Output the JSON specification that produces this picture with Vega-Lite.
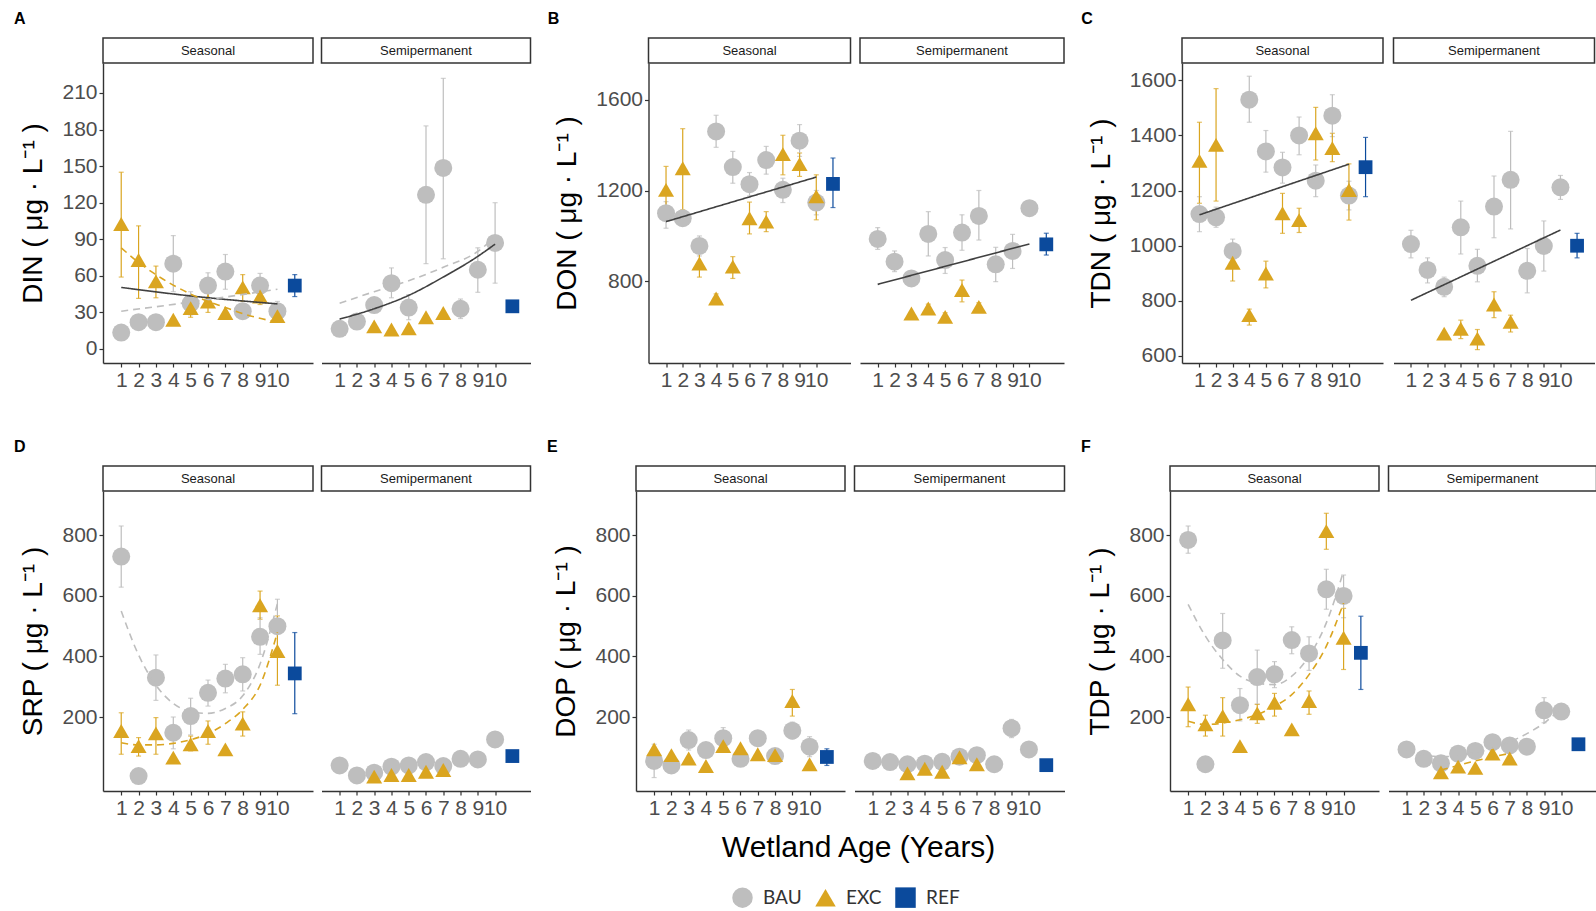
{
  "$schema": "https://vega.github.io/schema/vega-lite/v6.json",
  "background": "#FFFFFF",
  "padding": {"left": 13, "top": 11, "right": 0, "bottom": 0},
  "datasets": {
    "pts": [
      {"p":"A","hab":"Seasonal","grp":"BAU","age":1,"m":13.5},
      {"p":"A","hab":"Seasonal","grp":"BAU","age":2,"m":22},
      {"p":"A","hab":"Seasonal","grp":"BAU","age":3,"m":22},
      {"p":"A","hab":"Seasonal","grp":"BAU","age":4,"m":70,"lo":47,"hi":93},
      {"p":"A","hab":"Seasonal","grp":"BAU","age":5,"m":37.5,"lo":28,"hi":47},
      {"p":"A","hab":"Seasonal","grp":"BAU","age":6,"m":52,"lo":41,"hi":62.5},
      {"p":"A","hab":"Seasonal","grp":"BAU","age":7,"m":63.5,"lo":49,"hi":77.5},
      {"p":"A","hab":"Seasonal","grp":"BAU","age":8,"m":31},
      {"p":"A","hab":"Seasonal","grp":"BAU","age":9,"m":52,"lo":42,"hi":62},
      {"p":"A","hab":"Seasonal","grp":"BAU","age":10,"m":31,"lo":23,"hi":39},
      {"p":"A","hab":"Seasonal","grp":"EXC","age":1,"m":102.5,"lo":59,"hi":145},
      {"p":"A","hab":"Seasonal","grp":"EXC","age":2,"m":73,"lo":41.5,"hi":101},
      {"p":"A","hab":"Seasonal","grp":"EXC","age":3,"m":55.5,"lo":42,"hi":68},
      {"p":"A","hab":"Seasonal","grp":"EXC","age":4,"m":24},
      {"p":"A","hab":"Seasonal","grp":"EXC","age":5,"m":33.5,"lo":26,"hi":42},
      {"p":"A","hab":"Seasonal","grp":"EXC","age":6,"m":39,"lo":30,"hi":50},
      {"p":"A","hab":"Seasonal","grp":"EXC","age":7,"m":29.5},
      {"p":"A","hab":"Seasonal","grp":"EXC","age":8,"m":50.5,"lo":39,"hi":61},
      {"p":"A","hab":"Seasonal","grp":"EXC","age":9,"m":43,"lo":36.5,"hi":49.5},
      {"p":"A","hab":"Seasonal","grp":"EXC","age":10,"m":27,"lo":24,"hi":33.5},
      {"p":"A","hab":"Seasonal","grp":"REF","age":11,"m":52,"lo":43,"hi":61},

      {"p":"A","hab":"Semipermanent","grp":"BAU","age":1,"m":16.5},
      {"p":"A","hab":"Semipermanent","grp":"BAU","age":2,"m":22.5},
      {"p":"A","hab":"Semipermanent","grp":"BAU","age":3,"m":36},
      {"p":"A","hab":"Semipermanent","grp":"BAU","age":4,"m":54,"lo":42,"hi":66.5},
      {"p":"A","hab":"Semipermanent","grp":"BAU","age":5,"m":34,"lo":24,"hi":44.5},
      {"p":"A","hab":"Semipermanent","grp":"BAU","age":6,"m":126.5,"lo":70,"hi":183},
      {"p":"A","hab":"Semipermanent","grp":"BAU","age":7,"m":148.5,"lo":74,"hi":222},
      {"p":"A","hab":"Semipermanent","grp":"BAU","age":8,"m":33,"lo":25,"hi":41},
      {"p":"A","hab":"Semipermanent","grp":"BAU","age":9,"m":65,"lo":46.5,"hi":83},
      {"p":"A","hab":"Semipermanent","grp":"BAU","age":10,"m":87,"lo":54,"hi":120},
      {"p":"A","hab":"Semipermanent","grp":"EXC","age":3,"m":18.5},
      {"p":"A","hab":"Semipermanent","grp":"EXC","age":4,"m":16},
      {"p":"A","hab":"Semipermanent","grp":"EXC","age":5,"m":17},
      {"p":"A","hab":"Semipermanent","grp":"EXC","age":6,"m":26},
      {"p":"A","hab":"Semipermanent","grp":"EXC","age":7,"m":29.5},
      {"p":"A","hab":"Semipermanent","grp":"REF","age":11,"m":35},

      {"p":"B","hab":"Seasonal","grp":"BAU","age":1,"m":1100,"lo":1034,"hi":1151},
      {"p":"B","hab":"Seasonal","grp":"BAU","age":2,"m":1078,"lo":1046,"hi":1110},
      {"p":"B","hab":"Seasonal","grp":"BAU","age":3,"m":956,"lo":912,"hi":1000},
      {"p":"B","hab":"Seasonal","grp":"BAU","age":4,"m":1460,"lo":1390,"hi":1531},
      {"p":"B","hab":"Seasonal","grp":"BAU","age":5,"m":1303,"lo":1232,"hi":1372},
      {"p":"B","hab":"Seasonal","grp":"BAU","age":6,"m":1228,"lo":1176,"hi":1279},
      {"p":"B","hab":"Seasonal","grp":"BAU","age":7,"m":1334,"lo":1272,"hi":1394},
      {"p":"B","hab":"Seasonal","grp":"BAU","age":8,"m":1203,"lo":1147,"hi":1254},
      {"p":"B","hab":"Seasonal","grp":"BAU","age":9,"m":1419,"lo":1350,"hi":1490},
      {"p":"B","hab":"Seasonal","grp":"BAU","age":10,"m":1147,"lo":1093,"hi":1200},
      {"p":"B","hab":"Seasonal","grp":"EXC","age":1,"m":1203,"lo":1093,"hi":1306},
      {"p":"B","hab":"Seasonal","grp":"EXC","age":2,"m":1298,"lo":1115,"hi":1472},
      {"p":"B","hab":"Seasonal","grp":"EXC","age":3,"m":879,"lo":819,"hi":938},
      {"p":"B","hab":"Seasonal","grp":"EXC","age":4,"m":725,"lo":705,"hi":745},
      {"p":"B","hab":"Seasonal","grp":"EXC","age":5,"m":865,"lo":813,"hi":909},
      {"p":"B","hab":"Seasonal","grp":"EXC","age":6,"m":1078,"lo":1009,"hi":1149},
      {"p":"B","hab":"Seasonal","grp":"EXC","age":7,"m":1063,"lo":1019,"hi":1107},
      {"p":"B","hab":"Seasonal","grp":"EXC","age":8,"m":1360,"lo":1269,"hi":1443},
      {"p":"B","hab":"Seasonal","grp":"EXC","age":9,"m":1316,"lo":1262,"hi":1365},
      {"p":"B","hab":"Seasonal","grp":"EXC","age":10,"m":1174,"lo":1071,"hi":1269},
      {"p":"B","hab":"Seasonal","grp":"REF","age":11,"m":1229,"lo":1125,"hi":1343},

      {"p":"B","hab":"Semipermanent","grp":"BAU","age":1,"m":987,"lo":941,"hi":1037},
      {"p":"B","hab":"Semipermanent","grp":"BAU","age":2,"m":887,"lo":843,"hi":934},
      {"p":"B","hab":"Semipermanent","grp":"BAU","age":3,"m":813,"lo":784,"hi":843},
      {"p":"B","hab":"Semipermanent","grp":"BAU","age":4,"m":1009,"lo":912,"hi":1107},
      {"p":"B","hab":"Semipermanent","grp":"BAU","age":5,"m":894,"lo":835,"hi":949},
      {"p":"B","hab":"Semipermanent","grp":"BAU","age":6,"m":1015,"lo":937,"hi":1093},
      {"p":"B","hab":"Semipermanent","grp":"BAU","age":7,"m":1088,"lo":982,"hi":1200},
      {"p":"B","hab":"Semipermanent","grp":"BAU","age":8,"m":875,"lo":799,"hi":950},
      {"p":"B","hab":"Semipermanent","grp":"BAU","age":9,"m":934,"lo":857,"hi":1007},
      {"p":"B","hab":"Semipermanent","grp":"BAU","age":10,"m":1122},
      {"p":"B","hab":"Semipermanent","grp":"EXC","age":3,"m":659},
      {"p":"B","hab":"Semipermanent","grp":"EXC","age":4,"m":681,"lo":662,"hi":700},
      {"p":"B","hab":"Semipermanent","grp":"EXC","age":5,"m":644,"lo":622,"hi":662},
      {"p":"B","hab":"Semipermanent","grp":"EXC","age":6,"m":762,"lo":710,"hi":806},
      {"p":"B","hab":"Semipermanent","grp":"EXC","age":7,"m":688,"lo":670,"hi":706},
      {"p":"B","hab":"Semipermanent","grp":"REF","age":11,"m":963,"lo":916,"hi":1012},

      {"p":"C","hab":"Seasonal","grp":"BAU","age":1,"m":1115,"lo":1051,"hi":1178},
      {"p":"C","hab":"Seasonal","grp":"BAU","age":2,"m":1103,"lo":1067,"hi":1140},
      {"p":"C","hab":"Seasonal","grp":"BAU","age":3,"m":981,"lo":936,"hi":1024},
      {"p":"C","hab":"Seasonal","grp":"BAU","age":4,"m":1530,"lo":1448,"hi":1615},
      {"p":"C","hab":"Seasonal","grp":"BAU","age":5,"m":1342,"lo":1267,"hi":1418},
      {"p":"C","hab":"Seasonal","grp":"BAU","age":6,"m":1284,"lo":1227,"hi":1339},
      {"p":"C","hab":"Seasonal","grp":"BAU","age":7,"m":1400,"lo":1330,"hi":1467},
      {"p":"C","hab":"Seasonal","grp":"BAU","age":8,"m":1236,"lo":1178,"hi":1293},
      {"p":"C","hab":"Seasonal","grp":"BAU","age":9,"m":1472,"lo":1396,"hi":1548},
      {"p":"C","hab":"Seasonal","grp":"BAU","age":10,"m":1182,"lo":1130,"hi":1234},
      {"p":"C","hab":"Seasonal","grp":"EXC","age":1,"m":1308,"lo":1154,"hi":1448},
      {"p":"C","hab":"Seasonal","grp":"EXC","age":2,"m":1366,"lo":1162,"hi":1570},
      {"p":"C","hab":"Seasonal","grp":"EXC","age":3,"m":938,"lo":872,"hi":996},
      {"p":"C","hab":"Seasonal","grp":"EXC","age":4,"m":748,"lo":712,"hi":770},
      {"p":"C","hab":"Seasonal","grp":"EXC","age":5,"m":899,"lo":847,"hi":944},
      {"p":"C","hab":"Seasonal","grp":"EXC","age":6,"m":1118,"lo":1045,"hi":1190},
      {"p":"C","hab":"Seasonal","grp":"EXC","age":7,"m":1093,"lo":1048,"hi":1136},
      {"p":"C","hab":"Seasonal","grp":"EXC","age":8,"m":1408,"lo":1311,"hi":1502},
      {"p":"C","hab":"Seasonal","grp":"EXC","age":9,"m":1354,"lo":1305,"hi":1408},
      {"p":"C","hab":"Seasonal","grp":"EXC","age":10,"m":1202,"lo":1093,"hi":1297},
      {"p":"C","hab":"Seasonal","grp":"REF","age":11,"m":1285,"lo":1178,"hi":1393},

      {"p":"C","hab":"Semipermanent","grp":"BAU","age":1,"m":1006,"lo":956,"hi":1056},
      {"p":"C","hab":"Semipermanent","grp":"BAU","age":2,"m":912,"lo":865,"hi":956},
      {"p":"C","hab":"Semipermanent","grp":"BAU","age":3,"m":851,"lo":815,"hi":886},
      {"p":"C","hab":"Semipermanent","grp":"BAU","age":4,"m":1067,"lo":970,"hi":1162},
      {"p":"C","hab":"Semipermanent","grp":"BAU","age":5,"m":927,"lo":869,"hi":987},
      {"p":"C","hab":"Semipermanent","grp":"BAU","age":6,"m":1142,"lo":1029,"hi":1253},
      {"p":"C","hab":"Semipermanent","grp":"BAU","age":7,"m":1239,"lo":1061,"hi":1415},
      {"p":"C","hab":"Semipermanent","grp":"BAU","age":8,"m":909,"lo":829,"hi":990},
      {"p":"C","hab":"Semipermanent","grp":"BAU","age":9,"m":999,"lo":908,"hi":1090},
      {"p":"C","hab":"Semipermanent","grp":"BAU","age":10,"m":1212,"lo":1168,"hi":1255},
      {"p":"C","hab":"Semipermanent","grp":"EXC","age":3,"m":681},
      {"p":"C","hab":"Semipermanent","grp":"EXC","age":4,"m":699,"lo":663,"hi":730},
      {"p":"C","hab":"Semipermanent","grp":"EXC","age":5,"m":663,"lo":623,"hi":696},
      {"p":"C","hab":"Semipermanent","grp":"EXC","age":6,"m":787,"lo":739,"hi":833},
      {"p":"C","hab":"Semipermanent","grp":"EXC","age":7,"m":724,"lo":687,"hi":748},
      {"p":"C","hab":"Semipermanent","grp":"REF","age":11,"m":1000,"lo":956,"hi":1045},

      {"p":"D","hab":"Seasonal","grp":"BAU","age":1,"m":730,"lo":629,"hi":831},
      {"p":"D","hab":"Seasonal","grp":"BAU","age":2,"m":5},
      {"p":"D","hab":"Seasonal","grp":"BAU","age":3,"m":330,"lo":255,"hi":405},
      {"p":"D","hab":"Seasonal","grp":"BAU","age":4,"m":148,"lo":95,"hi":200},
      {"p":"D","hab":"Seasonal","grp":"BAU","age":5,"m":203,"lo":141,"hi":262},
      {"p":"D","hab":"Seasonal","grp":"BAU","age":6,"m":280,"lo":236,"hi":322},
      {"p":"D","hab":"Seasonal","grp":"BAU","age":7,"m":327,"lo":280,"hi":374},
      {"p":"D","hab":"Seasonal","grp":"BAU","age":8,"m":341,"lo":286,"hi":396},
      {"p":"D","hab":"Seasonal","grp":"BAU","age":9,"m":465,"lo":407,"hi":528},
      {"p":"D","hab":"Seasonal","grp":"BAU","age":10,"m":500,"lo":412,"hi":589},
      {"p":"D","hab":"Seasonal","grp":"EXC","age":1,"m":154,"lo":77,"hi":214},
      {"p":"D","hab":"Seasonal","grp":"EXC","age":2,"m":104,"lo":71,"hi":132},
      {"p":"D","hab":"Seasonal","grp":"EXC","age":3,"m":146,"lo":77,"hi":198},
      {"p":"D","hab":"Seasonal","grp":"EXC","age":4,"m":66},
      {"p":"D","hab":"Seasonal","grp":"EXC","age":5,"m":110,"lo":88,"hi":137},
      {"p":"D","hab":"Seasonal","grp":"EXC","age":6,"m":154,"lo":110,"hi":187},
      {"p":"D","hab":"Seasonal","grp":"EXC","age":7,"m":93},
      {"p":"D","hab":"Seasonal","grp":"EXC","age":8,"m":178,"lo":137,"hi":217},
      {"p":"D","hab":"Seasonal","grp":"EXC","age":9,"m":569,"lo":523,"hi":616},
      {"p":"D","hab":"Seasonal","grp":"EXC","age":10,"m":418,"lo":305,"hi":534},
      {"p":"D","hab":"Seasonal","grp":"REF","age":11,"m":344,"lo":211,"hi":479},

      {"p":"D","hab":"Semipermanent","grp":"BAU","age":1,"m":40},
      {"p":"D","hab":"Semipermanent","grp":"BAU","age":2,"m":7},
      {"p":"D","hab":"Semipermanent","grp":"BAU","age":3,"m":16},
      {"p":"D","hab":"Semipermanent","grp":"BAU","age":4,"m":36},
      {"p":"D","hab":"Semipermanent","grp":"BAU","age":5,"m":40},
      {"p":"D","hab":"Semipermanent","grp":"BAU","age":6,"m":51},
      {"p":"D","hab":"Semipermanent","grp":"BAU","age":7,"m":38},
      {"p":"D","hab":"Semipermanent","grp":"BAU","age":8,"m":62},
      {"p":"D","hab":"Semipermanent","grp":"BAU","age":9,"m":60},
      {"p":"D","hab":"Semipermanent","grp":"BAU","age":10,"m":126},
      {"p":"D","hab":"Semipermanent","grp":"EXC","age":3,"m":3},
      {"p":"D","hab":"Semipermanent","grp":"EXC","age":4,"m":8.5},
      {"p":"D","hab":"Semipermanent","grp":"EXC","age":5,"m":8.5},
      {"p":"D","hab":"Semipermanent","grp":"EXC","age":6,"m":19},
      {"p":"D","hab":"Semipermanent","grp":"EXC","age":7,"m":25},
      {"p":"D","hab":"Semipermanent","grp":"REF","age":11,"m":71},

      {"p":"E","hab":"Seasonal","grp":"BAU","age":1,"m":55,"lo":0,"hi":110},
      {"p":"E","hab":"Seasonal","grp":"BAU","age":2,"m":40},
      {"p":"E","hab":"Seasonal","grp":"BAU","age":3,"m":124,"lo":91,"hi":157},
      {"p":"E","hab":"Seasonal","grp":"BAU","age":4,"m":91},
      {"p":"E","hab":"Seasonal","grp":"BAU","age":5,"m":130,"lo":95,"hi":165},
      {"p":"E","hab":"Seasonal","grp":"BAU","age":6,"m":62},
      {"p":"E","hab":"Seasonal","grp":"BAU","age":7,"m":130},
      {"p":"E","hab":"Seasonal","grp":"BAU","age":8,"m":71},
      {"p":"E","hab":"Seasonal","grp":"BAU","age":9,"m":155,"lo":128,"hi":183},
      {"p":"E","hab":"Seasonal","grp":"BAU","age":10,"m":102,"lo":69,"hi":135},
      {"p":"E","hab":"Seasonal","grp":"EXC","age":1,"m":93},
      {"p":"E","hab":"Seasonal","grp":"EXC","age":2,"m":74},
      {"p":"E","hab":"Seasonal","grp":"EXC","age":3,"m":63},
      {"p":"E","hab":"Seasonal","grp":"EXC","age":4,"m":38},
      {"p":"E","hab":"Seasonal","grp":"EXC","age":5,"m":104},
      {"p":"E","hab":"Seasonal","grp":"EXC","age":6,"m":97},
      {"p":"E","hab":"Seasonal","grp":"EXC","age":7,"m":77},
      {"p":"E","hab":"Seasonal","grp":"EXC","age":8,"m":74},
      {"p":"E","hab":"Seasonal","grp":"EXC","age":9,"m":253,"lo":203,"hi":291},
      {"p":"E","hab":"Seasonal","grp":"EXC","age":10,"m":44},
      {"p":"E","hab":"Seasonal","grp":"REF","age":11,"m":68,"lo":40,"hi":95},

      {"p":"E","hab":"Semipermanent","grp":"BAU","age":1,"m":55},
      {"p":"E","hab":"Semipermanent","grp":"BAU","age":2,"m":51},
      {"p":"E","hab":"Semipermanent","grp":"BAU","age":3,"m":44},
      {"p":"E","hab":"Semipermanent","grp":"BAU","age":4,"m":46},
      {"p":"E","hab":"Semipermanent","grp":"BAU","age":5,"m":52},
      {"p":"E","hab":"Semipermanent","grp":"BAU","age":6,"m":69},
      {"p":"E","hab":"Semipermanent","grp":"BAU","age":7,"m":74},
      {"p":"E","hab":"Semipermanent","grp":"BAU","age":8,"m":44},
      {"p":"E","hab":"Semipermanent","grp":"BAU","age":9,"m":163,"lo":132,"hi":192},
      {"p":"E","hab":"Semipermanent","grp":"BAU","age":10,"m":93,"lo":71,"hi":115},
      {"p":"E","hab":"Semipermanent","grp":"EXC","age":3,"m":14},
      {"p":"E","hab":"Semipermanent","grp":"EXC","age":4,"m":29},
      {"p":"E","hab":"Semipermanent","grp":"EXC","age":5,"m":19},
      {"p":"E","hab":"Semipermanent","grp":"EXC","age":6,"m":67},
      {"p":"E","hab":"Semipermanent","grp":"EXC","age":7,"m":44},
      {"p":"E","hab":"Semipermanent","grp":"REF","age":11,"m":41},

      {"p":"F","hab":"Seasonal","grp":"BAU","age":1,"m":785,"lo":741,"hi":831},
      {"p":"F","hab":"Seasonal","grp":"BAU","age":2,"m":44},
      {"p":"F","hab":"Seasonal","grp":"BAU","age":3,"m":453,"lo":361,"hi":542},
      {"p":"F","hab":"Seasonal","grp":"BAU","age":4,"m":239,"lo":187,"hi":294},
      {"p":"F","hab":"Seasonal","grp":"BAU","age":5,"m":332,"lo":242,"hi":421},
      {"p":"F","hab":"Seasonal","grp":"BAU","age":6,"m":341,"lo":297,"hi":383},
      {"p":"F","hab":"Seasonal","grp":"BAU","age":7,"m":454,"lo":409,"hi":498},
      {"p":"F","hab":"Seasonal","grp":"BAU","age":8,"m":410,"lo":354,"hi":465},
      {"p":"F","hab":"Seasonal","grp":"BAU","age":9,"m":622,"lo":556,"hi":688},
      {"p":"F","hab":"Seasonal","grp":"BAU","age":10,"m":600,"lo":528,"hi":669},
      {"p":"F","hab":"Seasonal","grp":"EXC","age":1,"m":242,"lo":168,"hi":299},
      {"p":"F","hab":"Seasonal","grp":"EXC","age":2,"m":176,"lo":137,"hi":206},
      {"p":"F","hab":"Seasonal","grp":"EXC","age":3,"m":203,"lo":137,"hi":264},
      {"p":"F","hab":"Seasonal","grp":"EXC","age":4,"m":104},
      {"p":"F","hab":"Seasonal","grp":"EXC","age":5,"m":212,"lo":179,"hi":242},
      {"p":"F","hab":"Seasonal","grp":"EXC","age":6,"m":247,"lo":203,"hi":278},
      {"p":"F","hab":"Seasonal","grp":"EXC","age":7,"m":159},
      {"p":"F","hab":"Seasonal","grp":"EXC","age":8,"m":253,"lo":209,"hi":286},
      {"p":"F","hab":"Seasonal","grp":"EXC","age":9,"m":814,"lo":754,"hi":873},
      {"p":"F","hab":"Seasonal","grp":"EXC","age":10,"m":462,"lo":357,"hi":559},
      {"p":"F","hab":"Seasonal","grp":"REF","age":11,"m":412,"lo":291,"hi":533},

      {"p":"F","hab":"Semipermanent","grp":"BAU","age":1,"m":93},
      {"p":"F","hab":"Semipermanent","grp":"BAU","age":2,"m":62},
      {"p":"F","hab":"Semipermanent","grp":"BAU","age":3,"m":47},
      {"p":"F","hab":"Semipermanent","grp":"BAU","age":4,"m":79},
      {"p":"F","hab":"Semipermanent","grp":"BAU","age":5,"m":88},
      {"p":"F","hab":"Semipermanent","grp":"BAU","age":6,"m":117},
      {"p":"F","hab":"Semipermanent","grp":"BAU","age":7,"m":106},
      {"p":"F","hab":"Semipermanent","grp":"BAU","age":8,"m":102},
      {"p":"F","hab":"Semipermanent","grp":"BAU","age":9,"m":222,"lo":181,"hi":264},
      {"p":"F","hab":"Semipermanent","grp":"BAU","age":10,"m":218},
      {"p":"F","hab":"Semipermanent","grp":"EXC","age":3,"m":17},
      {"p":"F","hab":"Semipermanent","grp":"EXC","age":4,"m":36},
      {"p":"F","hab":"Semipermanent","grp":"EXC","age":5,"m":32},
      {"p":"F","hab":"Semipermanent","grp":"EXC","age":6,"m":79},
      {"p":"F","hab":"Semipermanent","grp":"EXC","age":7,"m":63},
      {"p":"F","hab":"Semipermanent","grp":"REF","age":11,"m":110}
    ],
    "fits": [
      {"p":"A","hab":"Seasonal","fit":"Overall","age":1,"v":50.5},
      {"p":"A","hab":"Seasonal","fit":"Overall","age":5,"v":43.5},
      {"p":"A","hab":"Seasonal","fit":"Overall","age":10,"v":37},
      {"p":"A","hab":"Seasonal","fit":"BAU","age":1,"v":31},
      {"p":"A","hab":"Seasonal","fit":"BAU","age":5,"v":38.5},
      {"p":"A","hab":"Seasonal","fit":"BAU","age":10,"v":49},
      {"p":"A","hab":"Seasonal","fit":"EXC","age":1,"v":83},
      {"p":"A","hab":"Seasonal","fit":"EXC","age":2,"v":71},
      {"p":"A","hab":"Seasonal","fit":"EXC","age":3,"v":61},
      {"p":"A","hab":"Seasonal","fit":"EXC","age":5,"v":45},
      {"p":"A","hab":"Seasonal","fit":"EXC","age":7,"v":34},
      {"p":"A","hab":"Seasonal","fit":"EXC","age":8,"v":29},
      {"p":"A","hab":"Seasonal","fit":"EXC","age":10,"v":22},
      {"p":"A","hab":"Semipermanent","fit":"Overall","age":1,"v":24.5},
      {"p":"A","hab":"Semipermanent","fit":"Overall","age":3,"v":33},
      {"p":"A","hab":"Semipermanent","fit":"Overall","age":5,"v":44},
      {"p":"A","hab":"Semipermanent","fit":"Overall","age":7,"v":59},
      {"p":"A","hab":"Semipermanent","fit":"Overall","age":9,"v":76},
      {"p":"A","hab":"Semipermanent","fit":"Overall","age":10,"v":86},
      {"p":"A","hab":"Semipermanent","fit":"BAU","age":1,"v":37.5},
      {"p":"A","hab":"Semipermanent","fit":"BAU","age":3,"v":47},
      {"p":"A","hab":"Semipermanent","fit":"BAU","age":5,"v":56},
      {"p":"A","hab":"Semipermanent","fit":"BAU","age":7,"v":67},
      {"p":"A","hab":"Semipermanent","fit":"BAU","age":9,"v":80},
      {"p":"A","hab":"Semipermanent","fit":"BAU","age":10,"v":92},
      {"p":"B","hab":"Seasonal","fit":"Overall","age":1,"v":1063},
      {"p":"B","hab":"Seasonal","fit":"Overall","age":10,"v":1259},
      {"p":"B","hab":"Semipermanent","fit":"Overall","age":1,"v":787},
      {"p":"B","hab":"Semipermanent","fit":"Overall","age":10,"v":965},
      {"p":"C","hab":"Seasonal","fit":"Overall","age":1,"v":1112},
      {"p":"C","hab":"Seasonal","fit":"Overall","age":10,"v":1296},
      {"p":"C","hab":"Semipermanent","fit":"Overall","age":1,"v":802},
      {"p":"C","hab":"Semipermanent","fit":"Overall","age":10,"v":1057},
      {"p":"D","hab":"Seasonal","fit":"BAU","age":1,"v":550},
      {"p":"D","hab":"Seasonal","fit":"BAU","age":2,"v":405},
      {"p":"D","hab":"Seasonal","fit":"BAU","age":3,"v":305},
      {"p":"D","hab":"Seasonal","fit":"BAU","age":4,"v":245},
      {"p":"D","hab":"Seasonal","fit":"BAU","age":5,"v":218},
      {"p":"D","hab":"Seasonal","fit":"BAU","age":6,"v":212},
      {"p":"D","hab":"Seasonal","fit":"BAU","age":7,"v":228},
      {"p":"D","hab":"Seasonal","fit":"BAU","age":8,"v":270},
      {"p":"D","hab":"Seasonal","fit":"BAU","age":9,"v":375},
      {"p":"D","hab":"Seasonal","fit":"BAU","age":10,"v":575},
      {"p":"D","hab":"Seasonal","fit":"EXC","age":1,"v":115},
      {"p":"D","hab":"Seasonal","fit":"EXC","age":2,"v":108},
      {"p":"D","hab":"Seasonal","fit":"EXC","age":3,"v":108},
      {"p":"D","hab":"Seasonal","fit":"EXC","age":4,"v":113},
      {"p":"D","hab":"Seasonal","fit":"EXC","age":5,"v":125},
      {"p":"D","hab":"Seasonal","fit":"EXC","age":6,"v":145},
      {"p":"D","hab":"Seasonal","fit":"EXC","age":7,"v":178},
      {"p":"D","hab":"Seasonal","fit":"EXC","age":8,"v":225},
      {"p":"D","hab":"Seasonal","fit":"EXC","age":9,"v":305},
      {"p":"D","hab":"Seasonal","fit":"EXC","age":10,"v":480},
      {"p":"F","hab":"Seasonal","fit":"BAU","age":1,"v":572},
      {"p":"F","hab":"Seasonal","fit":"BAU","age":2,"v":467},
      {"p":"F","hab":"Seasonal","fit":"BAU","age":3,"v":390},
      {"p":"F","hab":"Seasonal","fit":"BAU","age":4,"v":335},
      {"p":"F","hab":"Seasonal","fit":"BAU","age":5,"v":312},
      {"p":"F","hab":"Seasonal","fit":"BAU","age":6,"v":307},
      {"p":"F","hab":"Seasonal","fit":"BAU","age":7,"v":335},
      {"p":"F","hab":"Seasonal","fit":"BAU","age":8,"v":401},
      {"p":"F","hab":"Seasonal","fit":"BAU","age":9,"v":511},
      {"p":"F","hab":"Seasonal","fit":"BAU","age":10,"v":682},
      {"p":"F","hab":"Seasonal","fit":"EXC","age":1,"v":186},
      {"p":"F","hab":"Seasonal","fit":"EXC","age":2,"v":175},
      {"p":"F","hab":"Seasonal","fit":"EXC","age":3,"v":180},
      {"p":"F","hab":"Seasonal","fit":"EXC","age":4,"v":191},
      {"p":"F","hab":"Seasonal","fit":"EXC","age":5,"v":208},
      {"p":"F","hab":"Seasonal","fit":"EXC","age":6,"v":235},
      {"p":"F","hab":"Seasonal","fit":"EXC","age":7,"v":274},
      {"p":"F","hab":"Seasonal","fit":"EXC","age":8,"v":340},
      {"p":"F","hab":"Seasonal","fit":"EXC","age":9,"v":434},
      {"p":"F","hab":"Seasonal","fit":"EXC","age":10,"v":577},
      {"p":"F","hab":"Semipermanent","fit":"BAU","age":1,"v":88},
      {"p":"F","hab":"Semipermanent","fit":"BAU","age":2,"v":74},
      {"p":"F","hab":"Semipermanent","fit":"BAU","age":3,"v":69},
      {"p":"F","hab":"Semipermanent","fit":"BAU","age":4,"v":72},
      {"p":"F","hab":"Semipermanent","fit":"BAU","age":5,"v":82},
      {"p":"F","hab":"Semipermanent","fit":"BAU","age":6,"v":98},
      {"p":"F","hab":"Semipermanent","fit":"BAU","age":7,"v":118},
      {"p":"F","hab":"Semipermanent","fit":"BAU","age":8,"v":145},
      {"p":"F","hab":"Semipermanent","fit":"BAU","age":9,"v":180},
      {"p":"F","hab":"Semipermanent","fit":"BAU","age":10,"v":228},
      {"p":"F","hab":"Semipermanent","fit":"EXC","age":3,"v":25},
      {"p":"F","hab":"Semipermanent","fit":"EXC","age":4,"v":40},
      {"p":"F","hab":"Semipermanent","fit":"EXC","age":5,"v":55},
      {"p":"F","hab":"Semipermanent","fit":"EXC","age":6,"v":68},
      {"p":"F","hab":"Semipermanent","fit":"EXC","age":7,"v":80}
    ]
  },
  "spacing": 49,
  "vconcat": [
    {
      "spacing": 15.5,
      "hconcat": [
        {
          "title": {"text": "A", "anchor": "start", "frame": "bounds", "fontSize": 16, "fontWeight": "bold", "color": "#000000", "offset": 10, "dx": -6},
          "spacing": 6.5,
          "hconcat": [
            {"spacing": 0, "bounds": "flush", "vconcat": [
              {"width": 210, "height": 25, "data": {"values": [{"hab": "Seasonal"}]}, "mark": {"type": "text", "fontSize": 13, "color": "#1A1A1A"}, "encoding": {"text": {"field": "hab", "type": "nominal"}}, "view": {"stroke": "#333333", "strokeWidth": 1.5, "fill": "#FFFFFF"}},
              {"width": 210, "height": 300,
               "encoding": {"x": {"field": "age", "type": "quantitative", "scale": {"domain": [-0.05, 12.05], "nice": false, "zero": false}, "axis": {"values": [1,2,3,4,5,6,7,8,9,10], "title": null}}},
               "layer": [
                {"data": {"name": "pts"}, "transform": [{"filter": "datum.p=='A' && datum.hab=='Seasonal' && isValid(datum.lo)"}],
                 "mark": {"type": "errorbar", "ticks": true, "size": 5, "thickness": 1.2},
                 "encoding": {"y": {"field": "lo", "type": "quantitative", "scale": {"domain": [-11.5, 234.6], "nice": false, "zero": false}, "axis": {"values": [0,30,60,90,120,150,180,210], "title": "DIN ( μg · L⁻¹ )"}}, "y2": {"field": "hi"}, "color": {"field": "grp", "type": "nominal", "scale": {"domain": ["REF","EXC","BAU"], "range": ["#0B4A9C","#DAA520","#BEBEBE"]}, "legend": null}}},
                {"data": {"name": "pts"}, "transform": [{"filter": "datum.p=='A' && datum.hab=='Seasonal'"}],
                 "mark": {"type": "point", "filled": true, "opacity": 1},
                 "encoding": {"y": {"field": "m", "type": "quantitative", "scale": {"domain": [-11.5, 234.6], "nice": false, "zero": false}, "axis": {"values": [0,30,60,90,120,150,180,210], "title": "DIN ( μg · L⁻¹ )"}},
                  "fill": {"field": "grp", "type": "nominal", "scale": {"domain": ["BAU","EXC","REF"], "range": ["#BEBEBE","#DAA520","#0B4A9C"]}, "legend": {"title": null, "orient": "none", "legendX": 629, "legendY": 849, "direction": "horizontal"}},
                  "shape": {"field": "grp", "type": "nominal", "scale": {"domain": ["BAU","EXC","REF"], "range": ["circle","triangle-up","square"]}, "legend": {"title": null, "orient": "none", "legendX": 629, "legendY": 849, "direction": "horizontal"}},
                  "size": {"field": "grp", "type": "nominal", "scale": {"domain": ["REF","EXC","BAU"], "range": [190,324,196]}, "legend": null}}},
                {"data": {"name": "fits"}, "transform": [{"filter": "datum.p=='A' && datum.hab=='Seasonal'"}],
                 "mark": {"type": "line", "interpolate": "monotone", "strokeWidth": 1.6},
                 "encoding": {"y": {"field": "v", "type": "quantitative", "scale": {"domain": [-11.5, 234.6], "nice": false, "zero": false}, "axis": {"values": [0,30,60,90,120,150,180,210], "title": "DIN ( μg · L⁻¹ )"}},
                  "stroke": {"field": "fit", "type": "nominal", "scale": {"domain": ["Overall","BAU","EXC"], "range": ["#404040","#BEBEBE","#DAA520"]}, "legend": null},
                  "strokeDash": {"field": "fit", "type": "nominal", "scale": {"domain": ["Overall","BAU","EXC"], "range": [[1,0],[7,5],[7,5]]}, "legend": null}}}
               ]}
            ]},
            {"spacing": 0, "bounds": "flush", "vconcat": [
              {"width": 209, "height": 25, "data": {"values": [{"hab": "Semipermanent"}]}, "mark": {"type": "text", "fontSize": 13, "color": "#1A1A1A"}, "encoding": {"text": {"field": "hab", "type": "nominal"}}, "view": {"stroke": "#333333", "strokeWidth": 1.5, "fill": "#FFFFFF"}},
              {"width": 209, "height": 300,
               "encoding": {"x": {"field": "age", "type": "quantitative", "scale": {"domain": [-0.05, 12.05], "nice": false, "zero": false}, "axis": {"values": [1,2,3,4,5,6,7,8,9,10], "title": null}}},
               "layer": [
                {"data": {"name": "pts"}, "transform": [{"filter": "datum.p=='A' && datum.hab=='Semipermanent' && isValid(datum.lo)"}],
                 "mark": {"type": "errorbar", "ticks": true, "size": 5, "thickness": 1.2},
                 "encoding": {"y": {"field": "lo", "type": "quantitative", "scale": {"domain": [-11.5, 234.6], "nice": false, "zero": false}, "axis": null}, "y2": {"field": "hi"}, "color": {"field": "grp", "type": "nominal", "scale": {"domain": ["REF","EXC","BAU"], "range": ["#0B4A9C","#DAA520","#BEBEBE"]}, "legend": null}}},
                {"data": {"name": "pts"}, "transform": [{"filter": "datum.p=='A' && datum.hab=='Semipermanent'"}],
                 "mark": {"type": "point", "filled": true, "opacity": 1},
                 "encoding": {"y": {"field": "m", "type": "quantitative", "scale": {"domain": [-11.5, 234.6], "nice": false, "zero": false}, "axis": null},
                  "fill": {"field": "grp", "type": "nominal", "scale": {"domain": ["BAU","EXC","REF"], "range": ["#BEBEBE","#DAA520","#0B4A9C"]}, "legend": {"title": null, "orient": "none", "legendX": 629, "legendY": 849, "direction": "horizontal"}},
                  "shape": {"field": "grp", "type": "nominal", "scale": {"domain": ["BAU","EXC","REF"], "range": ["circle","triangle-up","square"]}, "legend": {"title": null, "orient": "none", "legendX": 629, "legendY": 849, "direction": "horizontal"}},
                  "size": {"field": "grp", "type": "nominal", "scale": {"domain": ["REF","EXC","BAU"], "range": [190,324,196]}, "legend": null}}},
                {"data": {"name": "fits"}, "transform": [{"filter": "datum.p=='A' && datum.hab=='Semipermanent'"}],
                 "mark": {"type": "line", "interpolate": "monotone", "strokeWidth": 1.6},
                 "encoding": {"y": {"field": "v", "type": "quantitative", "scale": {"domain": [-11.5, 234.6], "nice": false, "zero": false}, "axis": null},
                  "stroke": {"field": "fit", "type": "nominal", "scale": {"domain": ["Overall","BAU","EXC"], "range": ["#404040","#BEBEBE","#DAA520"]}, "legend": null},
                  "strokeDash": {"field": "fit", "type": "nominal", "scale": {"domain": ["Overall","BAU","EXC"], "range": [[1,0],[7,5],[7,5]]}, "legend": null}}}
               ]}
            ]}
          ]
        },
        {
          "title": {"text": "B", "anchor": "start", "frame": "bounds", "fontSize": 16, "fontWeight": "bold", "color": "#000000", "offset": 10, "dx": -6},
          "spacing": 7.5,
          "hconcat": [
            {"spacing": 0, "bounds": "flush", "vconcat": [
              {"width": 202, "height": 25, "data": {"values": [{"hab": "Seasonal"}]}, "mark": {"type": "text", "fontSize": 13, "color": "#1A1A1A"}, "encoding": {"text": {"field": "hab", "type": "nominal"}}, "view": {"stroke": "#333333", "strokeWidth": 1.5, "fill": "#FFFFFF"}},
              {"width": 202, "height": 300,
               "encoding": {"x": {"field": "age", "type": "quantitative", "scale": {"domain": [-0.05, 12.05], "nice": false, "zero": false}, "axis": {"values": [1,2,3,4,5,6,7,8,9,10], "title": null}}},
               "layer": [
                {"data": {"name": "pts"}, "transform": [{"filter": "datum.p=='B' && datum.hab=='Seasonal' && isValid(datum.lo)"}],
                 "mark": {"type": "errorbar", "ticks": true, "size": 5, "thickness": 1.2},
                 "encoding": {"y": {"field": "lo", "type": "quantitative", "scale": {"domain": [441, 1761], "nice": false, "zero": false}, "axis": {"values": [800,1200,1600], "format": "d", "title": "DON ( μg · L⁻¹ )"}}, "y2": {"field": "hi"}, "color": {"field": "grp", "type": "nominal", "scale": {"domain": ["REF","EXC","BAU"], "range": ["#0B4A9C","#DAA520","#BEBEBE"]}, "legend": null}}},
                {"data": {"name": "pts"}, "transform": [{"filter": "datum.p=='B' && datum.hab=='Seasonal'"}],
                 "mark": {"type": "point", "filled": true, "opacity": 1},
                 "encoding": {"y": {"field": "m", "type": "quantitative", "scale": {"domain": [441, 1761], "nice": false, "zero": false}, "axis": {"values": [800,1200,1600], "format": "d", "title": "DON ( μg · L⁻¹ )"}},
                  "fill": {"field": "grp", "type": "nominal", "scale": {"domain": ["BAU","EXC","REF"], "range": ["#BEBEBE","#DAA520","#0B4A9C"]}, "legend": {"title": null, "orient": "none", "legendX": 629, "legendY": 849, "direction": "horizontal"}},
                  "shape": {"field": "grp", "type": "nominal", "scale": {"domain": ["BAU","EXC","REF"], "range": ["circle","triangle-up","square"]}, "legend": {"title": null, "orient": "none", "legendX": 629, "legendY": 849, "direction": "horizontal"}},
                  "size": {"field": "grp", "type": "nominal", "scale": {"domain": ["REF","EXC","BAU"], "range": [190,324,196]}, "legend": null}}},
                {"data": {"name": "fits"}, "transform": [{"filter": "datum.p=='B' && datum.hab=='Seasonal'"}],
                 "mark": {"type": "line", "interpolate": "monotone", "strokeWidth": 1.6},
                 "encoding": {"y": {"field": "v", "type": "quantitative", "scale": {"domain": [441, 1761], "nice": false, "zero": false}, "axis": {"values": [800,1200,1600], "format": "d", "title": "DON ( μg · L⁻¹ )"}},
                  "stroke": {"field": "fit", "type": "nominal", "scale": {"domain": ["Overall","BAU","EXC"], "range": ["#404040","#BEBEBE","#DAA520"]}, "legend": null},
                  "strokeDash": {"field": "fit", "type": "nominal", "scale": {"domain": ["Overall","BAU","EXC"], "range": [[1,0],[7,5],[7,5]]}, "legend": null}}}
               ]}
            ]},
            {"spacing": 0, "bounds": "flush", "vconcat": [
              {"width": 204, "height": 25, "data": {"values": [{"hab": "Semipermanent"}]}, "mark": {"type": "text", "fontSize": 13, "color": "#1A1A1A"}, "encoding": {"text": {"field": "hab", "type": "nominal"}}, "view": {"stroke": "#333333", "strokeWidth": 1.5, "fill": "#FFFFFF"}},
              {"width": 204, "height": 300,
               "encoding": {"x": {"field": "age", "type": "quantitative", "scale": {"domain": [-0.05, 12.05], "nice": false, "zero": false}, "axis": {"values": [1,2,3,4,5,6,7,8,9,10], "title": null}}},
               "layer": [
                {"data": {"name": "pts"}, "transform": [{"filter": "datum.p=='B' && datum.hab=='Semipermanent' && isValid(datum.lo)"}],
                 "mark": {"type": "errorbar", "ticks": true, "size": 5, "thickness": 1.2},
                 "encoding": {"y": {"field": "lo", "type": "quantitative", "scale": {"domain": [441, 1761], "nice": false, "zero": false}, "axis": null}, "y2": {"field": "hi"}, "color": {"field": "grp", "type": "nominal", "scale": {"domain": ["REF","EXC","BAU"], "range": ["#0B4A9C","#DAA520","#BEBEBE"]}, "legend": null}}},
                {"data": {"name": "pts"}, "transform": [{"filter": "datum.p=='B' && datum.hab=='Semipermanent'"}],
                 "mark": {"type": "point", "filled": true, "opacity": 1},
                 "encoding": {"y": {"field": "m", "type": "quantitative", "scale": {"domain": [441, 1761], "nice": false, "zero": false}, "axis": null},
                  "fill": {"field": "grp", "type": "nominal", "scale": {"domain": ["BAU","EXC","REF"], "range": ["#BEBEBE","#DAA520","#0B4A9C"]}, "legend": {"title": null, "orient": "none", "legendX": 629, "legendY": 849, "direction": "horizontal"}},
                  "shape": {"field": "grp", "type": "nominal", "scale": {"domain": ["BAU","EXC","REF"], "range": ["circle","triangle-up","square"]}, "legend": {"title": null, "orient": "none", "legendX": 629, "legendY": 849, "direction": "horizontal"}},
                  "size": {"field": "grp", "type": "nominal", "scale": {"domain": ["REF","EXC","BAU"], "range": [190,324,196]}, "legend": null}}},
                {"data": {"name": "fits"}, "transform": [{"filter": "datum.p=='B' && datum.hab=='Semipermanent'"}],
                 "mark": {"type": "line", "interpolate": "monotone", "strokeWidth": 1.6},
                 "encoding": {"y": {"field": "v", "type": "quantitative", "scale": {"domain": [441, 1761], "nice": false, "zero": false}, "axis": null},
                  "stroke": {"field": "fit", "type": "nominal", "scale": {"domain": ["Overall","BAU","EXC"], "range": ["#404040","#BEBEBE","#DAA520"]}, "legend": null},
                  "strokeDash": {"field": "fit", "type": "nominal", "scale": {"domain": ["Overall","BAU","EXC"], "range": [[1,0],[7,5],[7,5]]}, "legend": null}}}
               ]}
            ]}
          ]
        },
        {
          "title": {"text": "C", "anchor": "start", "frame": "bounds", "fontSize": 16, "fontWeight": "bold", "color": "#000000", "offset": 10, "dx": -6},
          "spacing": 8.5,
          "hconcat": [
            {"spacing": 0, "bounds": "flush", "vconcat": [
              {"width": 201, "height": 25, "data": {"values": [{"hab": "Seasonal"}]}, "mark": {"type": "text", "fontSize": 13, "color": "#1A1A1A"}, "encoding": {"text": {"field": "hab", "type": "nominal"}}, "view": {"stroke": "#333333", "strokeWidth": 1.5, "fill": "#FFFFFF"}},
              {"width": 201, "height": 300,
               "encoding": {"x": {"field": "age", "type": "quantitative", "scale": {"domain": [-0.05, 12.05], "nice": false, "zero": false}, "axis": {"values": [1,2,3,4,5,6,7,8,9,10], "title": null}}},
               "layer": [
                {"data": {"name": "pts"}, "transform": [{"filter": "datum.p=='C' && datum.hab=='Seasonal' && isValid(datum.lo)"}],
                 "mark": {"type": "errorbar", "ticks": true, "size": 5, "thickness": 1.2},
                 "encoding": {"y": {"field": "lo", "type": "quantitative", "scale": {"domain": [574.5, 1663], "nice": false, "zero": false}, "axis": {"values": [600,800,1000,1200,1400,1600], "format": "d", "title": "TDN ( μg · L⁻¹ )"}}, "y2": {"field": "hi"}, "color": {"field": "grp", "type": "nominal", "scale": {"domain": ["REF","EXC","BAU"], "range": ["#0B4A9C","#DAA520","#BEBEBE"]}, "legend": null}}},
                {"data": {"name": "pts"}, "transform": [{"filter": "datum.p=='C' && datum.hab=='Seasonal'"}],
                 "mark": {"type": "point", "filled": true, "opacity": 1},
                 "encoding": {"y": {"field": "m", "type": "quantitative", "scale": {"domain": [574.5, 1663], "nice": false, "zero": false}, "axis": {"values": [600,800,1000,1200,1400,1600], "format": "d", "title": "TDN ( μg · L⁻¹ )"}},
                  "fill": {"field": "grp", "type": "nominal", "scale": {"domain": ["BAU","EXC","REF"], "range": ["#BEBEBE","#DAA520","#0B4A9C"]}, "legend": {"title": null, "orient": "none", "legendX": 629, "legendY": 849, "direction": "horizontal"}},
                  "shape": {"field": "grp", "type": "nominal", "scale": {"domain": ["BAU","EXC","REF"], "range": ["circle","triangle-up","square"]}, "legend": {"title": null, "orient": "none", "legendX": 629, "legendY": 849, "direction": "horizontal"}},
                  "size": {"field": "grp", "type": "nominal", "scale": {"domain": ["REF","EXC","BAU"], "range": [190,324,196]}, "legend": null}}},
                {"data": {"name": "fits"}, "transform": [{"filter": "datum.p=='C' && datum.hab=='Seasonal'"}],
                 "mark": {"type": "line", "interpolate": "monotone", "strokeWidth": 1.6},
                 "encoding": {"y": {"field": "v", "type": "quantitative", "scale": {"domain": [574.5, 1663], "nice": false, "zero": false}, "axis": {"values": [600,800,1000,1200,1400,1600], "format": "d", "title": "TDN ( μg · L⁻¹ )"}},
                  "stroke": {"field": "fit", "type": "nominal", "scale": {"domain": ["Overall","BAU","EXC"], "range": ["#404040","#BEBEBE","#DAA520"]}, "legend": null},
                  "strokeDash": {"field": "fit", "type": "nominal", "scale": {"domain": ["Overall","BAU","EXC"], "range": [[1,0],[7,5],[7,5]]}, "legend": null}}}
               ]}
            ]},
            {"spacing": 0, "bounds": "flush", "vconcat": [
              {"width": 201, "height": 25, "data": {"values": [{"hab": "Semipermanent"}]}, "mark": {"type": "text", "fontSize": 13, "color": "#1A1A1A"}, "encoding": {"text": {"field": "hab", "type": "nominal"}}, "view": {"stroke": "#333333", "strokeWidth": 1.5, "fill": "#FFFFFF"}},
              {"width": 201, "height": 300,
               "encoding": {"x": {"field": "age", "type": "quantitative", "scale": {"domain": [-0.05, 12.05], "nice": false, "zero": false}, "axis": {"values": [1,2,3,4,5,6,7,8,9,10], "title": null}}},
               "layer": [
                {"data": {"name": "pts"}, "transform": [{"filter": "datum.p=='C' && datum.hab=='Semipermanent' && isValid(datum.lo)"}],
                 "mark": {"type": "errorbar", "ticks": true, "size": 5, "thickness": 1.2},
                 "encoding": {"y": {"field": "lo", "type": "quantitative", "scale": {"domain": [574.5, 1663], "nice": false, "zero": false}, "axis": null}, "y2": {"field": "hi"}, "color": {"field": "grp", "type": "nominal", "scale": {"domain": ["REF","EXC","BAU"], "range": ["#0B4A9C","#DAA520","#BEBEBE"]}, "legend": null}}},
                {"data": {"name": "pts"}, "transform": [{"filter": "datum.p=='C' && datum.hab=='Semipermanent'"}],
                 "mark": {"type": "point", "filled": true, "opacity": 1},
                 "encoding": {"y": {"field": "m", "type": "quantitative", "scale": {"domain": [574.5, 1663], "nice": false, "zero": false}, "axis": null},
                  "fill": {"field": "grp", "type": "nominal", "scale": {"domain": ["BAU","EXC","REF"], "range": ["#BEBEBE","#DAA520","#0B4A9C"]}, "legend": {"title": null, "orient": "none", "legendX": 629, "legendY": 849, "direction": "horizontal"}},
                  "shape": {"field": "grp", "type": "nominal", "scale": {"domain": ["BAU","EXC","REF"], "range": ["circle","triangle-up","square"]}, "legend": {"title": null, "orient": "none", "legendX": 629, "legendY": 849, "direction": "horizontal"}},
                  "size": {"field": "grp", "type": "nominal", "scale": {"domain": ["REF","EXC","BAU"], "range": [190,324,196]}, "legend": null}}},
                {"data": {"name": "fits"}, "transform": [{"filter": "datum.p=='C' && datum.hab=='Semipermanent'"}],
                 "mark": {"type": "line", "interpolate": "monotone", "strokeWidth": 1.6},
                 "encoding": {"y": {"field": "v", "type": "quantitative", "scale": {"domain": [574.5, 1663], "nice": false, "zero": false}, "axis": null},
                  "stroke": {"field": "fit", "type": "nominal", "scale": {"domain": ["Overall","BAU","EXC"], "range": ["#404040","#BEBEBE","#DAA520"]}, "legend": null},
                  "strokeDash": {"field": "fit", "type": "nominal", "scale": {"domain": ["Overall","BAU","EXC"], "range": [[1,0],[7,5],[7,5]]}, "legend": null}}}
               ]}
            ]}
          ]
        }
      ]
    },
    {
      "title": {"text": "Wetland Age (Years)", "orient": "bottom", "anchor": "middle", "fontSize": 30, "fontWeight": "normal", "color": "#000000", "font": "Liberation Sans", "dx": 53, "offset": 15},
      "spacing": 14,
      "hconcat": [
        {
          "title": {"text": "D", "anchor": "start", "frame": "bounds", "fontSize": 16, "fontWeight": "bold", "color": "#000000", "offset": 10, "dx": -6},
          "spacing": 6.5,
          "hconcat": [
            {"spacing": 0, "bounds": "flush", "vconcat": [
              {"width": 210, "height": 25, "data": {"values": [{"hab": "Seasonal"}]}, "mark": {"type": "text", "fontSize": 13, "color": "#1A1A1A"}, "encoding": {"text": {"field": "hab", "type": "nominal"}}, "view": {"stroke": "#333333", "strokeWidth": 1.5, "fill": "#FFFFFF"}},
              {"width": 210, "height": 300,
               "encoding": {"x": {"field": "age", "type": "quantitative", "scale": {"domain": [-0.05, 12.05], "nice": false, "zero": false}, "axis": {"values": [1,2,3,4,5,6,7,8,9,10], "title": null}}},
               "layer": [
                {"data": {"name": "pts"}, "transform": [{"filter": "datum.p=='D' && datum.hab=='Seasonal' && isValid(datum.lo)"}],
                 "mark": {"type": "errorbar", "ticks": true, "size": 5, "thickness": 1.2},
                 "encoding": {"y": {"field": "lo", "type": "quantitative", "scale": {"domain": [-44.4, 946.6], "nice": false, "zero": false}, "axis": {"values": [200,400,600,800], "title": "SRP ( μg · L⁻¹ )"}}, "y2": {"field": "hi"}, "color": {"field": "grp", "type": "nominal", "scale": {"domain": ["REF","EXC","BAU"], "range": ["#0B4A9C","#DAA520","#BEBEBE"]}, "legend": null}}},
                {"data": {"name": "pts"}, "transform": [{"filter": "datum.p=='D' && datum.hab=='Seasonal'"}],
                 "mark": {"type": "point", "filled": true, "opacity": 1},
                 "encoding": {"y": {"field": "m", "type": "quantitative", "scale": {"domain": [-44.4, 946.6], "nice": false, "zero": false}, "axis": {"values": [200,400,600,800], "title": "SRP ( μg · L⁻¹ )"}},
                  "fill": {"field": "grp", "type": "nominal", "scale": {"domain": ["BAU","EXC","REF"], "range": ["#BEBEBE","#DAA520","#0B4A9C"]}, "legend": {"title": null, "orient": "none", "legendX": 629, "legendY": 849, "direction": "horizontal"}},
                  "shape": {"field": "grp", "type": "nominal", "scale": {"domain": ["BAU","EXC","REF"], "range": ["circle","triangle-up","square"]}, "legend": {"title": null, "orient": "none", "legendX": 629, "legendY": 849, "direction": "horizontal"}},
                  "size": {"field": "grp", "type": "nominal", "scale": {"domain": ["REF","EXC","BAU"], "range": [190,324,196]}, "legend": null}}},
                {"data": {"name": "fits"}, "transform": [{"filter": "datum.p=='D' && datum.hab=='Seasonal'"}],
                 "mark": {"type": "line", "interpolate": "monotone", "strokeWidth": 1.6},
                 "encoding": {"y": {"field": "v", "type": "quantitative", "scale": {"domain": [-44.4, 946.6], "nice": false, "zero": false}, "axis": {"values": [200,400,600,800], "title": "SRP ( μg · L⁻¹ )"}},
                  "stroke": {"field": "fit", "type": "nominal", "scale": {"domain": ["Overall","BAU","EXC"], "range": ["#404040","#BEBEBE","#DAA520"]}, "legend": null},
                  "strokeDash": {"field": "fit", "type": "nominal", "scale": {"domain": ["Overall","BAU","EXC"], "range": [[1,0],[7,5],[7,5]]}, "legend": null}}}
               ]}
            ]},
            {"spacing": 0, "bounds": "flush", "vconcat": [
              {"width": 209, "height": 25, "data": {"values": [{"hab": "Semipermanent"}]}, "mark": {"type": "text", "fontSize": 13, "color": "#1A1A1A"}, "encoding": {"text": {"field": "hab", "type": "nominal"}}, "view": {"stroke": "#333333", "strokeWidth": 1.5, "fill": "#FFFFFF"}},
              {"width": 209, "height": 300,
               "encoding": {"x": {"field": "age", "type": "quantitative", "scale": {"domain": [-0.05, 12.05], "nice": false, "zero": false}, "axis": {"values": [1,2,3,4,5,6,7,8,9,10], "title": null}}},
               "layer": [
                {"data": {"name": "pts"}, "transform": [{"filter": "datum.p=='D' && datum.hab=='Semipermanent'"}],
                 "mark": {"type": "point", "filled": true, "opacity": 1},
                 "encoding": {"y": {"field": "m", "type": "quantitative", "scale": {"domain": [-44.4, 946.6], "nice": false, "zero": false}, "axis": null},
                  "fill": {"field": "grp", "type": "nominal", "scale": {"domain": ["BAU","EXC","REF"], "range": ["#BEBEBE","#DAA520","#0B4A9C"]}, "legend": {"title": null, "orient": "none", "legendX": 629, "legendY": 849, "direction": "horizontal"}},
                  "shape": {"field": "grp", "type": "nominal", "scale": {"domain": ["BAU","EXC","REF"], "range": ["circle","triangle-up","square"]}, "legend": {"title": null, "orient": "none", "legendX": 629, "legendY": 849, "direction": "horizontal"}},
                  "size": {"field": "grp", "type": "nominal", "scale": {"domain": ["REF","EXC","BAU"], "range": [190,324,196]}, "legend": null}}}
               ]}
            ]}
          ]
        },
        {
          "title": {"text": "E", "anchor": "start", "frame": "bounds", "fontSize": 16, "fontWeight": "bold", "color": "#000000", "offset": 10, "dx": -6},
          "spacing": 7.5,
          "hconcat": [
            {"spacing": 0, "bounds": "flush", "vconcat": [
              {"width": 209, "height": 25, "data": {"values": [{"hab": "Seasonal"}]}, "mark": {"type": "text", "fontSize": 13, "color": "#1A1A1A"}, "encoding": {"text": {"field": "hab", "type": "nominal"}}, "view": {"stroke": "#333333", "strokeWidth": 1.5, "fill": "#FFFFFF"}},
              {"width": 209, "height": 300,
               "encoding": {"x": {"field": "age", "type": "quantitative", "scale": {"domain": [-0.05, 12.05], "nice": false, "zero": false}, "axis": {"values": [1,2,3,4,5,6,7,8,9,10], "title": null}}},
               "layer": [
                {"data": {"name": "pts"}, "transform": [{"filter": "datum.p=='E' && datum.hab=='Seasonal' && isValid(datum.lo)"}],
                 "mark": {"type": "errorbar", "ticks": true, "size": 5, "thickness": 1.2},
                 "encoding": {"y": {"field": "lo", "type": "quantitative", "scale": {"domain": [-44.4, 946.6], "nice": false, "zero": false}, "axis": {"values": [200,400,600,800], "title": "DOP ( μg · L⁻¹ )"}}, "y2": {"field": "hi"}, "color": {"field": "grp", "type": "nominal", "scale": {"domain": ["REF","EXC","BAU"], "range": ["#0B4A9C","#DAA520","#BEBEBE"]}, "legend": null}}},
                {"data": {"name": "pts"}, "transform": [{"filter": "datum.p=='E' && datum.hab=='Seasonal'"}],
                 "mark": {"type": "point", "filled": true, "opacity": 1},
                 "encoding": {"y": {"field": "m", "type": "quantitative", "scale": {"domain": [-44.4, 946.6], "nice": false, "zero": false}, "axis": {"values": [200,400,600,800], "title": "DOP ( μg · L⁻¹ )"}},
                  "fill": {"field": "grp", "type": "nominal", "scale": {"domain": ["BAU","EXC","REF"], "range": ["#BEBEBE","#DAA520","#0B4A9C"]}, "legend": {"title": null, "orient": "none", "legendX": 629, "legendY": 849, "direction": "horizontal"}},
                  "shape": {"field": "grp", "type": "nominal", "scale": {"domain": ["BAU","EXC","REF"], "range": ["circle","triangle-up","square"]}, "legend": {"title": null, "orient": "none", "legendX": 629, "legendY": 849, "direction": "horizontal"}},
                  "size": {"field": "grp", "type": "nominal", "scale": {"domain": ["REF","EXC","BAU"], "range": [190,324,196]}, "legend": null}}}
               ]}
            ]},
            {"spacing": 0, "bounds": "flush", "vconcat": [
              {"width": 210, "height": 25, "data": {"values": [{"hab": "Semipermanent"}]}, "mark": {"type": "text", "fontSize": 13, "color": "#1A1A1A"}, "encoding": {"text": {"field": "hab", "type": "nominal"}}, "view": {"stroke": "#333333", "strokeWidth": 1.5, "fill": "#FFFFFF"}},
              {"width": 210, "height": 300,
               "encoding": {"x": {"field": "age", "type": "quantitative", "scale": {"domain": [-0.05, 12.05], "nice": false, "zero": false}, "axis": {"values": [1,2,3,4,5,6,7,8,9,10], "title": null}}},
               "layer": [
                {"data": {"name": "pts"}, "transform": [{"filter": "datum.p=='E' && datum.hab=='Semipermanent' && isValid(datum.lo)"}],
                 "mark": {"type": "errorbar", "ticks": true, "size": 5, "thickness": 1.2},
                 "encoding": {"y": {"field": "lo", "type": "quantitative", "scale": {"domain": [-44.4, 946.6], "nice": false, "zero": false}, "axis": null}, "y2": {"field": "hi"}, "color": {"field": "grp", "type": "nominal", "scale": {"domain": ["REF","EXC","BAU"], "range": ["#0B4A9C","#DAA520","#BEBEBE"]}, "legend": null}}},
                {"data": {"name": "pts"}, "transform": [{"filter": "datum.p=='E' && datum.hab=='Semipermanent'"}],
                 "mark": {"type": "point", "filled": true, "opacity": 1},
                 "encoding": {"y": {"field": "m", "type": "quantitative", "scale": {"domain": [-44.4, 946.6], "nice": false, "zero": false}, "axis": null},
                  "fill": {"field": "grp", "type": "nominal", "scale": {"domain": ["BAU","EXC","REF"], "range": ["#BEBEBE","#DAA520","#0B4A9C"]}, "legend": {"title": null, "orient": "none", "legendX": 629, "legendY": 849, "direction": "horizontal"}},
                  "shape": {"field": "grp", "type": "nominal", "scale": {"domain": ["BAU","EXC","REF"], "range": ["circle","triangle-up","square"]}, "legend": {"title": null, "orient": "none", "legendX": 629, "legendY": 849, "direction": "horizontal"}},
                  "size": {"field": "grp", "type": "nominal", "scale": {"domain": ["REF","EXC","BAU"], "range": [190,324,196]}, "legend": null}}}
               ]}
            ]}
          ]
        },
        {
          "title": {"text": "F", "anchor": "start", "frame": "bounds", "fontSize": 16, "fontWeight": "bold", "color": "#000000", "offset": 10, "dx": -6},
          "spacing": 7.5,
          "hconcat": [
            {"spacing": 0, "bounds": "flush", "vconcat": [
              {"width": 209, "height": 25, "data": {"values": [{"hab": "Seasonal"}]}, "mark": {"type": "text", "fontSize": 13, "color": "#1A1A1A"}, "encoding": {"text": {"field": "hab", "type": "nominal"}}, "view": {"stroke": "#333333", "strokeWidth": 1.5, "fill": "#FFFFFF"}},
              {"width": 209, "height": 300,
               "encoding": {"x": {"field": "age", "type": "quantitative", "scale": {"domain": [-0.05, 12.05], "nice": false, "zero": false}, "axis": {"values": [1,2,3,4,5,6,7,8,9,10], "title": null}}},
               "layer": [
                {"data": {"name": "pts"}, "transform": [{"filter": "datum.p=='F' && datum.hab=='Seasonal' && isValid(datum.lo)"}],
                 "mark": {"type": "errorbar", "ticks": true, "size": 5, "thickness": 1.2},
                 "encoding": {"y": {"field": "lo", "type": "quantitative", "scale": {"domain": [-44.4, 946.6], "nice": false, "zero": false}, "axis": {"values": [200,400,600,800], "title": "TDP ( μg · L⁻¹ )"}}, "y2": {"field": "hi"}, "color": {"field": "grp", "type": "nominal", "scale": {"domain": ["REF","EXC","BAU"], "range": ["#0B4A9C","#DAA520","#BEBEBE"]}, "legend": null}}},
                {"data": {"name": "pts"}, "transform": [{"filter": "datum.p=='F' && datum.hab=='Seasonal'"}],
                 "mark": {"type": "point", "filled": true, "opacity": 1},
                 "encoding": {"y": {"field": "m", "type": "quantitative", "scale": {"domain": [-44.4, 946.6], "nice": false, "zero": false}, "axis": {"values": [200,400,600,800], "title": "TDP ( μg · L⁻¹ )"}},
                  "fill": {"field": "grp", "type": "nominal", "scale": {"domain": ["BAU","EXC","REF"], "range": ["#BEBEBE","#DAA520","#0B4A9C"]}, "legend": {"title": null, "orient": "none", "legendX": 629, "legendY": 849, "direction": "horizontal"}},
                  "shape": {"field": "grp", "type": "nominal", "scale": {"domain": ["BAU","EXC","REF"], "range": ["circle","triangle-up","square"]}, "legend": {"title": null, "orient": "none", "legendX": 629, "legendY": 849, "direction": "horizontal"}},
                  "size": {"field": "grp", "type": "nominal", "scale": {"domain": ["REF","EXC","BAU"], "range": [190,324,196]}, "legend": null}}},
                {"data": {"name": "fits"}, "transform": [{"filter": "datum.p=='F' && datum.hab=='Seasonal'"}],
                 "mark": {"type": "line", "interpolate": "monotone", "strokeWidth": 1.6},
                 "encoding": {"y": {"field": "v", "type": "quantitative", "scale": {"domain": [-44.4, 946.6], "nice": false, "zero": false}, "axis": {"values": [200,400,600,800], "title": "TDP ( μg · L⁻¹ )"}},
                  "stroke": {"field": "fit", "type": "nominal", "scale": {"domain": ["Overall","BAU","EXC"], "range": ["#404040","#BEBEBE","#DAA520"]}, "legend": null},
                  "strokeDash": {"field": "fit", "type": "nominal", "scale": {"domain": ["Overall","BAU","EXC"], "range": [[1,0],[7,5],[7,5]]}, "legend": null}}}
               ]}
            ]},
            {"spacing": 0, "bounds": "flush", "vconcat": [
              {"width": 208, "height": 25, "data": {"values": [{"hab": "Semipermanent"}]}, "mark": {"type": "text", "fontSize": 13, "color": "#1A1A1A"}, "encoding": {"text": {"field": "hab", "type": "nominal"}}, "view": {"stroke": "#333333", "strokeWidth": 1.5, "fill": "#FFFFFF"}},
              {"width": 208, "height": 300,
               "encoding": {"x": {"field": "age", "type": "quantitative", "scale": {"domain": [-0.05, 12.05], "nice": false, "zero": false}, "axis": {"values": [1,2,3,4,5,6,7,8,9,10], "title": null}}},
               "layer": [
                {"data": {"name": "pts"}, "transform": [{"filter": "datum.p=='F' && datum.hab=='Semipermanent' && isValid(datum.lo)"}],
                 "mark": {"type": "errorbar", "ticks": true, "size": 5, "thickness": 1.2},
                 "encoding": {"y": {"field": "lo", "type": "quantitative", "scale": {"domain": [-44.4, 946.6], "nice": false, "zero": false}, "axis": null}, "y2": {"field": "hi"}, "color": {"field": "grp", "type": "nominal", "scale": {"domain": ["REF","EXC","BAU"], "range": ["#0B4A9C","#DAA520","#BEBEBE"]}, "legend": null}}},
                {"data": {"name": "pts"}, "transform": [{"filter": "datum.p=='F' && datum.hab=='Semipermanent'"}],
                 "mark": {"type": "point", "filled": true, "opacity": 1},
                 "encoding": {"y": {"field": "m", "type": "quantitative", "scale": {"domain": [-44.4, 946.6], "nice": false, "zero": false}, "axis": null},
                  "fill": {"field": "grp", "type": "nominal", "scale": {"domain": ["BAU","EXC","REF"], "range": ["#BEBEBE","#DAA520","#0B4A9C"]}, "legend": {"title": null, "orient": "none", "legendX": 629, "legendY": 849, "direction": "horizontal"}},
                  "shape": {"field": "grp", "type": "nominal", "scale": {"domain": ["BAU","EXC","REF"], "range": ["circle","triangle-up","square"]}, "legend": {"title": null, "orient": "none", "legendX": 629, "legendY": 849, "direction": "horizontal"}},
                  "size": {"field": "grp", "type": "nominal", "scale": {"domain": ["REF","EXC","BAU"], "range": [190,324,196]}, "legend": null}}},
                {"data": {"name": "fits"}, "transform": [{"filter": "datum.p=='F' && datum.hab=='Semipermanent'"}],
                 "mark": {"type": "line", "interpolate": "monotone", "strokeWidth": 1.6},
                 "encoding": {"y": {"field": "v", "type": "quantitative", "scale": {"domain": [-44.4, 946.6], "nice": false, "zero": false}, "axis": null},
                  "stroke": {"field": "fit", "type": "nominal", "scale": {"domain": ["Overall","BAU","EXC"], "range": ["#404040","#BEBEBE","#DAA520"]}, "legend": null},
                  "strokeDash": {"field": "fit", "type": "nominal", "scale": {"domain": ["Overall","BAU","EXC"], "range": [[1,0],[7,5],[7,5]]}, "legend": null}}}
               ]}
            ]}
          ]
        }
      ]
    }
  ],
  "config": {
    "font": "Liberation Sans",
    "view": {"stroke": null},
    "axis": {"domainColor": "#333333", "domainWidth": 1.4, "tickColor": "#333333", "tickWidth": 1.2, "tickSize": 4, "labelFont": "Liberation Sans", "labelFontSize": 21, "labelColor": "#4D4D4D", "labelPadding": 2, "grid": false, "titleFont": "Liberation Sans", "titleFontSize": 28, "titleFontWeight": "normal", "titleColor": "#000000", "labelOverlap": false, "labelBound": false, "labelFlush": false},
    "axisY": {"titlePadding": 14},
    "legend": {"labelFont": "Lato", "labelFontSize": 19, "labelColor": "#333333", "symbolSize": 420, "symbolStrokeWidth": 0, "labelOffset": 10, "columnPadding": 13, "symbolOpacity": 1},
    "title": {"font": "Liberation Sans"}
  }
}
